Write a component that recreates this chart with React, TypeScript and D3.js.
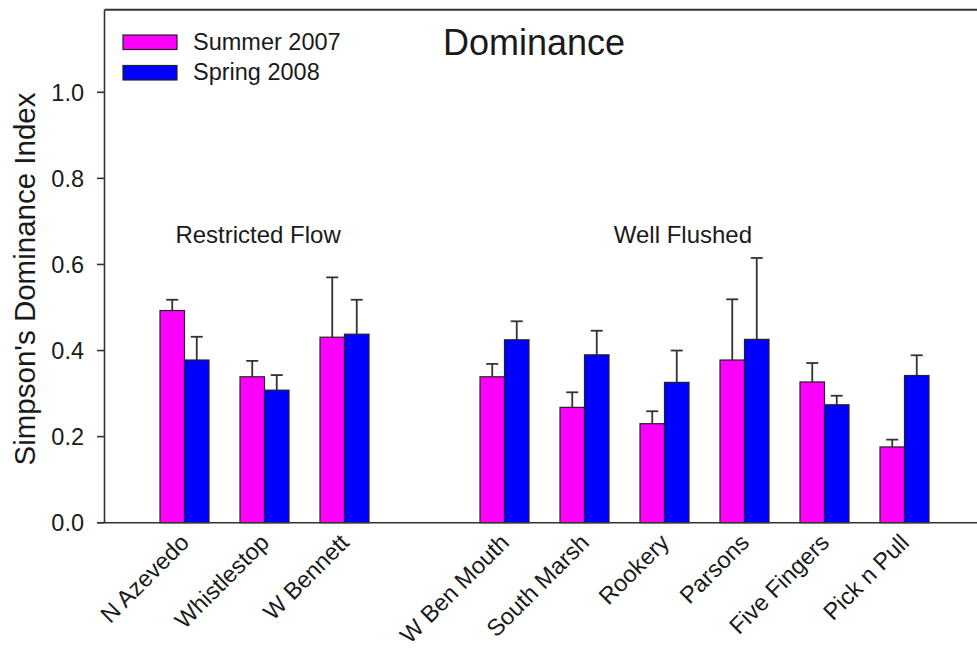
import React from "react";
import * as d3 from "d3";

// ---- data ----
const sites = ["N Azevedo", "Whistlestop", "W Bennett", "W Ben Mouth", "South Marsh", "Rookery", "Parsons", "Five Fingers", "Pick n Pull"];
const sitePositions = [1, 2, 3, 5, 6, 7, 8, 9, 10];
const summer2007 = [0.493, 0.339, 0.431, 0.339, 0.268, 0.230, 0.378, 0.327, 0.176];
const summer2007Err = [0.025, 0.037, 0.139, 0.030, 0.035, 0.029, 0.141, 0.044, 0.017];
const spring2008 = [0.378, 0.308, 0.438, 0.425, 0.390, 0.326, 0.426, 0.274, 0.342];
const spring2008Err = [0.054, 0.035, 0.080, 0.043, 0.056, 0.074, 0.189, 0.021, 0.047];
const seriesNames = ["Summer 2007", "Spring 2008"];
const yTicks = [0.0, 0.2, 0.4, 0.6, 0.8, 1.0];
const groupLabels = ["Restricted Flow", "Well Flushed"];
const groupLabelPos = [1.92, 7.23];

const W = 977;
const H = 649;
const FONT = "'Liberation Sans', Arial, Helvetica, sans-serif";
const COLORS = ["#ff00ff", "#0000ff"];
const INK = "#1a1a1a";
const AXIS = "#333333";

export default function App() {
  const x = d3.scaleLinear().domain([0, 11]).range([104.5, 984.5]);
  const y = d3.scaleLinear().domain([0, 1]).range([522.7, 92.3]);
  const yTop = y(1.192);
  const inner = d3.scaleBand<string>().domain(seriesNames).range([-24.5, 24.5]).padding(0);
  const values = [summer2007, spring2008];
  const errs = [summer2007Err, spring2008Err];
  const capHalf = 6;

  return (
    <svg width={W} height={H} style={{ position: "absolute", left: 0, top: 0, background: "#fff" }} fontFamily={FONT}>
      <rect x={0} y={0} width={W} height={H} fill="#fff" />
      {/* bars */}
      {seriesNames.map((s, si) => (
        <g key={s}>
          {sites.map((site, i) => {
            const x0 = x(sitePositions[i]) + (inner(s) as number);
            const bw = inner.bandwidth();
            const v = values[si][i];
            const e = errs[si][i];
            const cx = x0 + bw / 2;
            return (
              <g key={site}>
                <line x1={cx} x2={cx} y1={y(v)} y2={y(v + e)} stroke={AXIS} strokeWidth={1.8} />
                <line x1={cx - capHalf} x2={cx + capHalf} y1={y(v + e)} y2={y(v + e)} stroke={AXIS} strokeWidth={1.8} />
                <rect x={x0} y={y(v)} width={bw} height={y(0) - y(v)} fill={COLORS[si]} stroke="#222" strokeWidth={1.2} />
              </g>
            );
          })}
        </g>
      ))}
      {/* frame / axes */}
      <line x1={104.5} x2={W} y1={yTop} y2={yTop} stroke={AXIS} strokeWidth={2} />
      <line x1={104.5} x2={104.5} y1={yTop} y2={y(0)} stroke={AXIS} strokeWidth={1.6} />
      <line x1={97} x2={W} y1={y(0)} y2={y(0)} stroke={AXIS} strokeWidth={1.6} />
      {yTicks.map((t) => (
        <g key={t}>
          <line x1={97} x2={104.5} y1={y(t)} y2={y(t)} stroke={AXIS} strokeWidth={1.6} />
          <text x={84} y={y(t)} dy="0.35em" textAnchor="end" fontSize={23.5} fill={INK}>
            {d3.format(".1f")(t)}
          </text>
        </g>
      ))}
      {/* x labels */}
      {sites.map((site, i) => {
        const ax = x(sitePositions[i]) + 6;
        const ay = 544;
        return (
          <text key={site} transform={`translate(${ax},${ay}) rotate(-45)`} textAnchor="end" fontSize={23.5} fill={INK}>
            {site}
          </text>
        );
      })}
      {/* y label */}
      <text transform={`translate(35,279) rotate(-90)`} textAnchor="middle" fontSize={29.5} fill={INK}>
        Simpson's Dominance Index
      </text>
      {/* title */}
      <text x={534} y={55} textAnchor="middle" fontSize={36} fill={INK}>
        Dominance
      </text>
      {/* group labels */}
      {groupLabels.map((g, i) => (
        <text key={g} x={x(groupLabelPos[i])} y={243} textAnchor="middle" fontSize={24} fill={INK}>
          {g}
        </text>
      ))}
      {/* legend */}
      {seriesNames.map((s, i) => (
        <g key={s}>
          <rect x={123} y={35 + i * 30.5} width={54} height={14.5} fill={COLORS[i]} stroke="#222" strokeWidth={1.2} />
          <text x={193} y={49.5 + i * 30.5} fontSize={23.5} fill={INK}>
            {s}
          </text>
        </g>
      ))}
    </svg>
  );
}
